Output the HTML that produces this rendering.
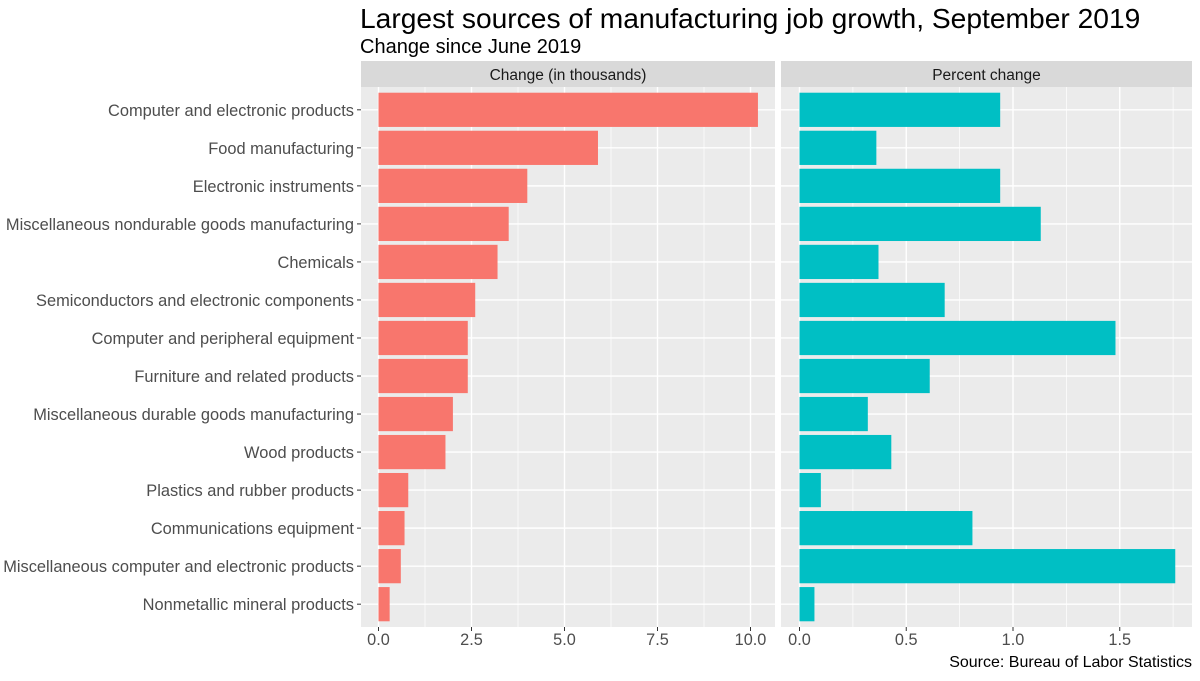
<!DOCTYPE html>
<html><head><meta charset="utf-8"><style>
body{margin:0;background:#fff;font-family:"Liberation Sans",sans-serif}
svg text{font-family:"Liberation Sans",sans-serif}
</style></head><body>
<svg id="c" width="1200" height="676" xmlns="http://www.w3.org/2000/svg">
<text x="360" y="28" font-size="28.2" fill="#000">Largest sources of manufacturing job growth, September 2019</text>
<text x="360" y="53" font-size="20" fill="#000">Change since June 2019</text>
<text x="1192" y="667" font-size="16" text-anchor="end" fill="#000">Source: Bureau of Labor Statistics</text>
<g id="g"></g>
</svg>
<script>
const categories=["Computer and electronic products","Food manufacturing","Electronic instruments","Miscellaneous nondurable goods manufacturing","Chemicals","Semiconductors and electronic components","Computer and peripheral equipment","Furniture and related products","Miscellaneous durable goods manufacturing","Wood products","Plastics and rubber products","Communications equipment","Miscellaneous computer and electronic products","Nonmetallic mineral products"];
const changeValues=[10.2,5.9,4.0,3.5,3.2,2.6,2.4,2.4,2.0,1.8,0.8,0.7,0.6,0.3];
const percentValues=[0.94,0.36,0.94,1.13,0.37,0.68,1.48,0.61,0.32,0.43,0.10,0.81,1.76,0.07];
const changeTicks=[0,2.5,5,7.5,10];
const changeTickLabels=["0.0","2.5","5.0","7.5","10.0"];
const percentTicks=[0,0.5,1,1.5];
const percentTickLabels=["0.0","0.5","1.0","1.5"];

const NS="http://www.w3.org/2000/svg";
const g=document.getElementById('g');
function mk(t,a,p){const e=document.createElementNS(NS,t);for(const k in a)e.setAttribute(k,a[k]);(p||g).appendChild(e);return e;}
const plotTop=87,plotBot=627,n=categories.length;
const step=(plotBot-plotTop)/(n+0.2);
function yPos(i){return plotTop+step*(i+0.6);}
const panels=[
 {x0:361,x1:775,zero:378.5,scale:37.2,vals:changeValues,ticks:changeTicks,labels:changeTickLabels,color:"#F8766D",title:"Change (in thousands)",name:"change"},
 {x0:781,x1:1192,zero:799.5,scale:213.5,vals:percentValues,ticks:percentTicks,labels:percentTickLabels,color:"#00BFC4",title:"Percent change",name:"percent"}
];
panels.forEach(p=>{
 const X=v=>p.zero+v*p.scale;
 let e=mk('rect',{x:p.x0,y:61,width:p.x1-p.x0,height:26,fill:'#D9D9D9'});
 
 
 e=mk('text',{x:(p.x0+p.x1)/2,y:80,'font-size':15.5,'text-anchor':'middle',fill:'#1a1a1a'});
 e.textContent=p.title;
 
 
 e=mk('rect',{x:p.x0,y:plotTop,width:p.x1-p.x0,height:plotBot-plotTop,fill:'#EBEBEB'});
 
 
 for(let k=0;k<p.ticks.length-1;k++){
  const mx=X((p.ticks[k]+p.ticks[k+1])/2);
  mk('line',{x1:mx,x2:mx,y1:plotTop,y2:plotBot,stroke:'#fff','stroke-width':0.7});
 }
 const last=p.ticks[p.ticks.length-1],d=p.ticks[1]-p.ticks[0];
 if(X(last+d/2)<p.x1) mk('line',{x1:X(last+d/2),x2:X(last+d/2),y1:plotTop,y2:plotBot,stroke:'#fff','stroke-width':0.7});
 p.ticks.forEach((t,k)=>{
  mk('line',{x1:X(t),x2:X(t),y1:plotTop,y2:plotBot,stroke:'#fff','stroke-width':1.4});
  mk('line',{x1:X(t),x2:X(t),y1:plotBot,y2:plotBot+4,stroke:'#333','stroke-width':1});
  const tl=mk('text',{x:X(t),y:plotBot+18,'font-size':16.3,'text-anchor':'middle',fill:'#4d4d4d'});
  tl.textContent=p.labels[k];
  
  
 });
 categories.forEach((c,i)=>mk('line',{x1:p.x0,x2:p.x1,y1:yPos(i),y2:yPos(i),stroke:'#fff','stroke-width':1.4}));
 p.vals.forEach((v,i)=>{
  const h=step*0.9;
  const b=mk('rect',{x:X(0),y:yPos(i)-h/2,width:X(v)-X(0),height:h,fill:p.color});
  
  
 });
});
categories.forEach((c,i)=>{
 mk('line',{x1:357,x2:361,y1:yPos(i),y2:yPos(i),stroke:'#333','stroke-width':1});
 const t=mk('text',{x:354,y:yPos(i)+6,'font-size':16.4,'text-anchor':'end',fill:'#4d4d4d'});
 t.textContent=c;
 
 
});
</script>
</body></html>
